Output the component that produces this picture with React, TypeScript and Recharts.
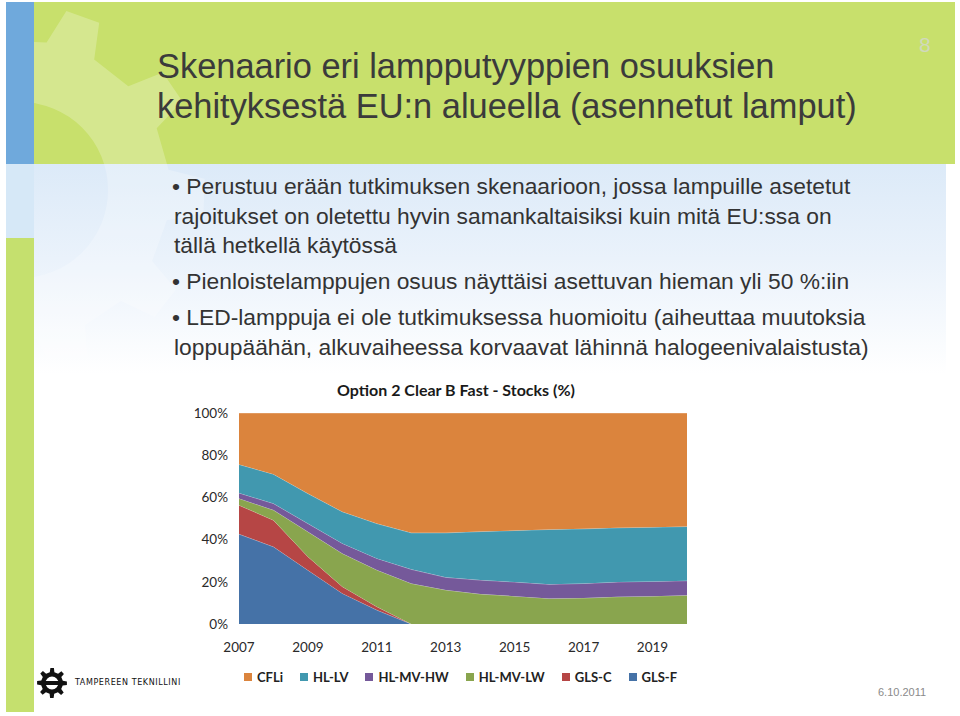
import React from "react";
import { AreaChart, Area, XAxis, YAxis } from "recharts";

// years on the category axis
const years = [
  "2007", "2008", "2009", "2010", "2011", "2012", "2013",
  "2014", "2015", "2016", "2017", "2018", "2019", "2020",
];

// stock shares (%) per lamp type
const cfli = [24.4, 29.0, 38.2, 46.8, 52.4, 56.8, 56.8, 56.2, 55.7, 55.2, 54.9, 54.4, 54.1, 53.8];
const hlLv = [13.5, 13.9, 14.2, 15.0, 16.5, 17.3, 21.1, 23.0, 24.4, 26.0, 25.9, 25.7, 25.7, 25.7];
const hlMvHw = [2.6, 3.1, 3.9, 4.8, 5.5, 6.7, 6.0, 6.6, 6.7, 6.7, 6.9, 7.0, 7.0, 6.9];
const hlMvLw = [3.2, 4.8, 11.8, 15.7, 17.4, 19.2, 16.1, 14.2, 13.2, 12.1, 12.3, 12.9, 13.2, 13.6];
const glsC = [13.7, 12.6, 6.4, 3.2, 1.6, 0, 0, 0, 0, 0, 0, 0, 0, 0];
const glsF = [42.6, 36.6, 25.5, 14.5, 6.6, 0, 0, 0, 0, 0, 0, 0, 0, 0];

const yTicks = [0, 20, 40, 60, 80, 100];

// legend order (top of stack first)
const series = [
  { key: "CFLi", values: cfli, color: "#DB843D" },
  { key: "HL-LV", values: hlLv, color: "#4198AF" },
  { key: "HL-MV-HW", values: hlMvHw, color: "#75599A" },
  { key: "HL-MV-LW", values: hlMvLw, color: "#89A54E" },
  { key: "GLS-C", values: glsC, color: "#B64645" },
  { key: "GLS-F", values: glsF, color: "#4572A7" },
];

const titleLines = [
  "Skenaario eri lampputyyppien osuuksien",
  "kehityksestä EU:n alueella (asennetut lamput)",
];

const bullets = [
  [
    "• Perustuu erään tutkimuksen skenaarioon, jossa lampuille asetetut",
    "rajoitukset on oletettu hyvin samankaltaisiksi kuin mitä EU:ssa on",
    "tällä hetkellä käytössä",
  ],
  ["• Pienloistelamppujen osuus näyttäisi asettuvan hieman yli 50 %:iin"],
  [
    "• LED-lamppuja ei ole tutkimuksessa huomioitu (aiheuttaa muutoksia",
    "loppupäähän, alkuvaiheessa korvaavat lähinnä halogeenivalaistusta)",
  ],
];

const data = years.map((year, i) => {
  const row: Record<string, string | number> = { year };
  series.forEach((s) => {
    row[s.key] = s.values[i];
  });
  return row;
});

// simple gear outline for the slide decoration
function gearPath(cx: number, cy: number, rBody: number, rTip: number, rHole: number, teeth: number, rot: number) {
  const pts: string[] = [];
  const step = (Math.PI * 2) / teeth;
  for (let i = 0; i < teeth; i++) {
    const a = rot + i * step;
    const seq: [number, number][] = [
      [a, rBody],
      [a + step * 0.12, rTip],
      [a + step * 0.42, rTip],
      [a + step * 0.54, rBody],
    ];
    seq.forEach(([ang, r]) => {
      pts.push(`${(cx + r * Math.cos(ang)).toFixed(1)},${(cy + r * Math.sin(ang)).toFixed(1)}`);
    });
  }
  const outer = "M" + pts.join("L") + "Z";
  const hole = `M${cx + rHole},${cy} A${rHole},${rHole} 0 1,0 ${cx - rHole},${cy} A${rHole},${rHole} 0 1,0 ${cx + rHole},${cy}Z`;
  return outer + hole;
}

const chartFont = "Lato, 'Open Sans', sans-serif";

const Logo = () => (
  <div style={{ position: "absolute", left: 37, top: 668, width: 150, height: 30 }}>
    <svg width={30} height={30} style={{ position: "absolute", left: 0, top: 0 }}>
      <path d={gearPath(15, 15, 11, 15, 6.5, 8, -Math.PI / 2 - 0.2)} fill="#111" fillRule="evenodd" />
      <rect x={4} y={13} width={22} height={4} fill="#111" />
    </svg>
    <div
      style={{
        position: "absolute",
        left: 38,
        top: 10,
        fontFamily: "'DejaVu Sans', sans-serif",
        fontSize: 8,
        letterSpacing: 0.6,
        whiteSpace: "nowrap",
        color: "#111",
      }}
    >
      TAMPEREEN TEKNILLINI
    </div>
  </div>
);

export default function App() {
  return (
    <div
      style={{
        position: "fixed",
        left: 0,
        top: 0,
        width: 960,
        height: 716,
        background: "#fff",
        overflow: "hidden",
        fontFamily: "'Liberation Sans', Arial, sans-serif",
      }}
    >
      {/* header band */}
      <div style={{ position: "absolute", left: 6, top: 2, width: 949, height: 162, background: "#C8E06C" }} />
      {/* body gradient */}
      <div
        style={{
          position: "absolute",
          left: 6,
          top: 164,
          width: 940,
          height: 210,
          background: "linear-gradient(to bottom, #DCEAF8 0%, #EAF2FB 45%, rgba(255,255,255,0) 100%)",
        }}
      />
      {/* gear watermark */}
      <svg width={960} height={716} style={{ position: "absolute", left: 0, top: 0 }}>
        <defs>
          <clipPath id="wm">
            <rect x={34} y={2} width={400} height={380} />
          </clipPath>
        </defs>
        <path
          d={gearPath(20, 190, 150, 185, 88, 10, -Math.PI / 2 - 0.45)}
          fill="#fff"
          fillOpacity={0.24}
          fillRule="evenodd"
          clipPath="url(#wm)"
        />
      </svg>
      {/* left strips */}
      <div style={{ position: "absolute", left: 6, top: 2, width: 28, height: 162, background: "#6FA9DC" }} />
      <div style={{ position: "absolute", left: 6, top: 164, width: 28, height: 74, background: "#D6E8F7" }} />
      <div style={{ position: "absolute", left: 6, top: 238, width: 28, height: 474, background: "#C5E06E" }} />

      {/* title */}
      <div
        style={{
          position: "absolute",
          left: 157,
          top: 46,
          fontSize: 34.4,
          lineHeight: "40px",
          color: "#3B3B3B",
          whiteSpace: "nowrap",
        }}
      >
        {titleLines.map((t) => (
          <div key={t}>{t}</div>
        ))}
      </div>
      <div style={{ position: "absolute", left: 919, top: 33, fontSize: 21, color: "#D0D9BC" }}>8</div>

      {/* bullets */}
      <div
        style={{
          position: "absolute",
          left: 172,
          top: 172,
          fontSize: 22.8,
          lineHeight: "29.5px",
          color: "#333",
          whiteSpace: "nowrap",
        }}
      >
        {bullets.map((para, pi) => (
          <div key={pi} style={{ marginTop: pi === 0 ? 0 : 6.5 }}>
            {para.map((line, li) => (
              <div key={li} style={{ paddingLeft: li === 0 ? 0 : 2 }}>
                {line}
              </div>
            ))}
          </div>
        ))}
      </div>

      {/* chart title */}
      <div
        style={{
          position: "absolute",
          left: 180,
          top: 380,
          width: 552,
          textAlign: "center",
          fontFamily: chartFont,
          fontWeight: 700,
          fontSize: 16,
          color: "#1a1a1a",
        }}
      >
        Option 2 Clear B Fast - Stocks (%)
      </div>

      <div style={{ position: "absolute", left: 180, top: 370 }}>
        <AreaChart width={560} height={300} data={data} margin={{ top: 43, right: 53, bottom: 16, left: 0 }}>
          <XAxis
            dataKey="year"
            height={30}
            interval={1}
            axisLine={false}
            tickLine={false}
            tickMargin={12}
            tick={{ fontFamily: chartFont, fontSize: 13.5, fill: "#2a2a2a" }}
          />
          <YAxis
            width={59}
            domain={[0, 100]}
            ticks={yTicks}
            tickFormatter={(v) => `${v}%`}
            axisLine={false}
            tickLine={false}
            tickMargin={5}
            tick={{ fontFamily: chartFont, fontSize: 13.5, fill: "#2a2a2a" }}
          />
          {[...series].reverse().map((s) => (
            <Area
              key={s.key}
              type="linear"
              dataKey={s.key}
              stackId="stock"
              fill={s.color}
              fillOpacity={1}
              stroke="#ffffff"
              strokeOpacity={0.45}
              strokeWidth={0.8}
              isAnimationActive={false}
            />
          ))}
        </AreaChart>
      </div>

      {/* legend */}
      <div
        style={{
          position: "absolute",
          left: 244,
          top: 669,
          display: "flex",
          gap: 17,
          fontFamily: chartFont,
          fontWeight: 700,
          fontSize: 13,
          color: "#222",
          whiteSpace: "nowrap",
        }}
      >
        {series.map((s) => (
          <div key={s.key} style={{ display: "flex", alignItems: "center", gap: 5 }}>
            <span style={{ display: "inline-block", width: 8, height: 8, background: s.color }} />
            <span>{s.key}</span>
          </div>
        ))}
      </div>

      <Logo />
      <div style={{ position: "absolute", left: 878, top: 686, fontSize: 11, color: "#8a8a8a" }}>6.10.2011</div>
    </div>
  );
}
